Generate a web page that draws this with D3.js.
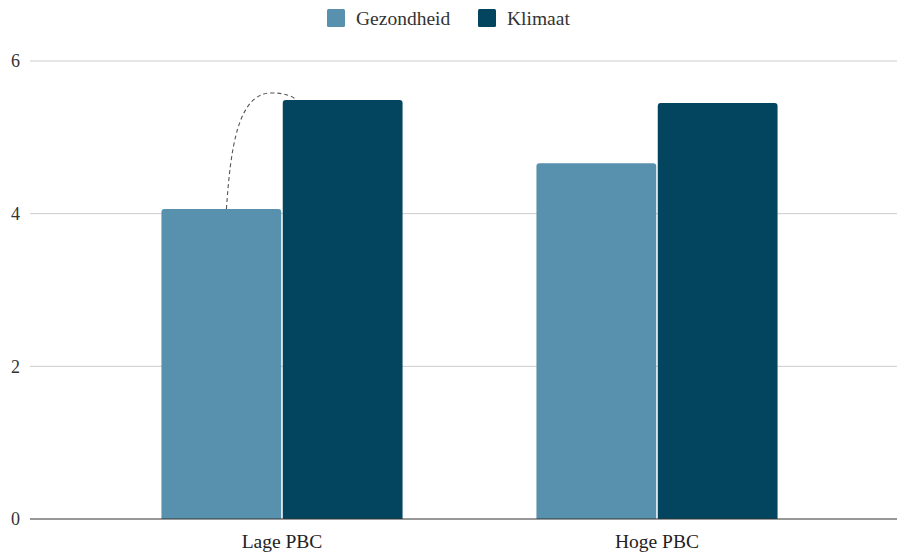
<!DOCTYPE html>
<html>
<head>
<meta charset="utf-8">
<script src="https://cdn.jsdelivr.net/npm/d3@7"></script>
<style>
  html, body { margin: 0; padding: 0; background: #fff; }
  svg { display: block; }
</style>
</head>
<body>
<svg id="chart" width="897" height="552"></svg>
<script>
// Data
const categories = ["Lage PBC", "Hoge PBC"];
const series = ["Gezondheid", "Klimaat"];
const gezondheid = [4.06, 4.66];
const klimaat = [5.49, 5.45];
const yTicks = [0, 2, 4, 6];
const colors = ["#5891ae", "#03445f"];
const FONT = '"Liberation Serif", "Times New Roman", serif';

const rows = categories.map((c, i) => ({ cat: c, values: [gezondheid[i], klimaat[i]] }));

const svg = d3.select("#chart");
const plot = { left: 30, right: 897, top: 61, bottom: 519 };

const y = d3.scaleLinear().domain([0, 6]).range([plot.bottom, plot.top]);
const x0 = d3.scaleBand().domain(categories).range([94.5, 844.5])
  .paddingInner(0.357).paddingOuter(0.1785);
const x1 = d3.scaleBand().domain(series).range([0, x0.bandwidth()]).paddingInner(0.0125);

// Grid lines
svg.append("g").selectAll("line").data(yTicks.filter(t => t !== 0)).join("line")
  .attr("x1", plot.left).attr("x2", plot.right)
  .attr("y1", d => y(d)).attr("y2", d => y(d))
  .attr("stroke", "#cccccc").attr("stroke-width", 1);

// Y tick labels
svg.append("g").selectAll("text").data(yTicks).join("text")
  .attr("x", 20).attr("y", d => y(d)).attr("dy", "0.35em")
  .attr("text-anchor", "end").attr("font-size", 18).attr("fill", "#333")
  .style("font-family", FONT)
  .text(d => d);

// Bars with rounded top corners
function topRounded(x, yTop, w, h, r) {
  r = Math.min(r, w / 2, h);
  return `M${x},${yTop + h} V${yTop + r} Q${x},${yTop} ${x + r},${yTop} H${x + w - r} Q${x + w},${yTop} ${x + w},${yTop + r} V${yTop + h} Z`;
}

const groups = svg.append("g").selectAll("g").data(rows).join("g")
  .attr("transform", d => `translate(${x0(d.cat)},0)`);
groups.selectAll("path").data(d => d.values.map((v, i) => ({ key: series[i], v, i }))).join("path")
  .attr("d", d => topRounded(x1(d.key), y(d.v), x1.bandwidth(), y(0) - y(d.v), 3))
  .attr("fill", d => colors[d.i]);

// Baseline
svg.append("line")
  .attr("x1", plot.left).attr("x2", plot.right)
  .attr("y1", y(0)).attr("y2", y(0))
  .attr("stroke", "#333").attr("stroke-width", 1.2);

// Category labels
svg.append("g").selectAll("text").data(categories).join("text")
  .attr("x", d => x0(d) + x0.bandwidth() / 2).attr("y", 548)
  .attr("text-anchor", "middle").attr("font-size", 19.5).attr("fill", "#222")
  .style("font-family", FONT)
  .text(d => d);

// Dashed connector from the first Gezondheid bar to the Klimaat bar
{
  const c = categories[0];
  const sx = x0(c) + x1("Gezondheid") + 65, sy = y(gezondheid[0]);
  const ex = x0(c) + x1("Klimaat") + 14, ey = y(klimaat[0]);
  const topY = ey - 7;
  const path = `M${sx},${sy} C${sx + 4},${sy - 59} ${sx + 11},${topY} ${sx + 45},${topY} C${sx + 58},${topY} ${ex - 5},${ey - 4} ${ex},${ey}`;
  svg.append("path").attr("d", path)
    .attr("fill", "none").attr("stroke", "#555")
    .attr("stroke-width", 1.1).attr("stroke-dasharray", "4,3");
}

// Legend
const legend = svg.append("g");
const legendItems = [{ name: series[0], x: 327 }, { name: series[1], x: 478 }];
legendItems.forEach((d, i) => {
  legend.append("rect").attr("x", d.x).attr("y", 9).attr("width", 18).attr("height", 18)
    .attr("rx", 1.5).attr("fill", colors[i]);
  legend.append("text").attr("x", d.x + 29).attr("y", 25)
    .attr("font-size", 19.5).attr("fill", "#333")
    .style("font-family", FONT)
    .text(d.name);
});
</script>
</body>
</html>
